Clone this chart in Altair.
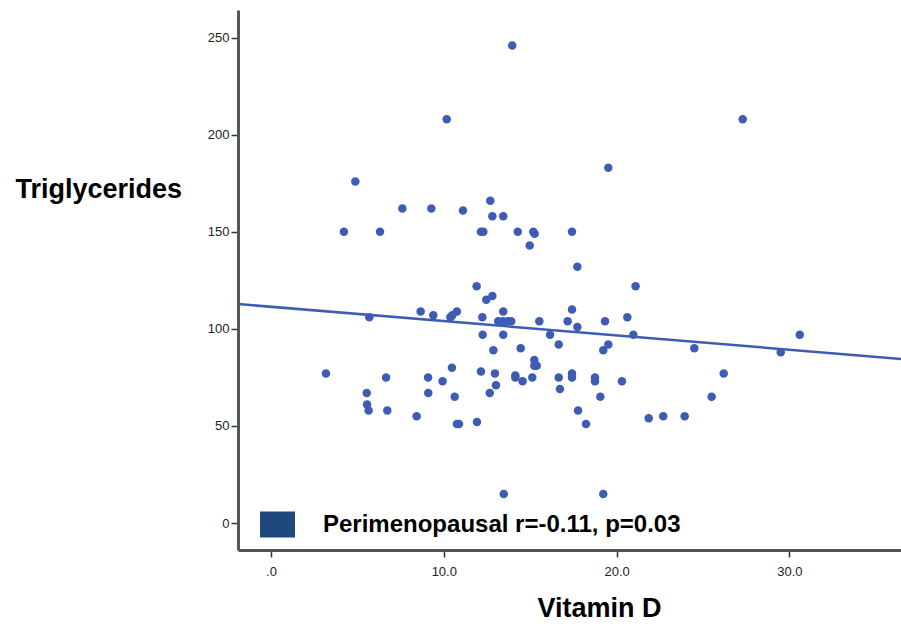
import altair as alt
import pandas as pd

# ---- data ----
vitamin_d = [13.96, 10.17, 4.88, 27.3, 19.52, 12.69, 7.6, 9.28, 11.11, 12.81,
             13.44, 4.22, 6.31, 12.15, 12.29, 14.28, 15.18, 15.26, 14.97, 11.9,
             12.81, 12.46, 8.66, 9.39, 10.38, 10.49, 10.76, 5.69, 12.23, 13.44,
             13.15, 13.44, 13.72, 13.9, 15.53, 12.25, 13.44, 16.15, 12.87, 14.45,
             15.24, 17.42, 17.73, 21.1, 17.42, 17.17, 19.33, 20.62, 17.73, 16.65,
             20.97, 19.52, 19.23, 24.5, 29.5, 30.6, 15.24, 15.38, 3.18, 6.66,
             9.09, 10.47, 9.93, 12.15, 12.96, 13.02, 14.14, 14.14, 14.56, 15.12,
             5.54, 9.1, 10.63, 12.66, 5.56, 5.65, 6.73, 8.43, 10.76, 10.88,
             11.92, 13.47, 16.65, 17.42, 17.42, 18.75, 18.75, 16.72, 20.31, 19.06,
             26.2, 25.5, 17.77, 18.23, 21.86, 22.7, 23.94, 19.23]
triglycerides = [246, 208, 176, 208, 183, 166, 162, 162, 161, 158,
                 158, 150, 150, 150, 150, 150, 150, 149, 143, 122,
                 117, 115, 109, 107, 106, 107, 109, 106, 106, 109,
                 104, 104, 104, 104, 104, 97, 97, 97, 89, 90,
                 84, 150, 132, 122, 110, 104, 104, 106, 101, 92,
                 97, 92, 89, 90, 88, 97, 81, 81, 77, 75,
                 75, 80, 73, 78, 77, 71, 76, 75, 73, 75,
                 67, 67, 65, 67, 61, 58, 58, 55, 51, 51,
                 52, 15, 75, 77, 75, 75, 73, 69, 73, 65,
                 77, 65, 58, 51, 54, 55, 55, 15]

fit_intercept = 111.4
fit_slope = -0.737
legend_label = "Perimenopausal r=-0.11, p=0.03"

x_domain = [-1.91, 36.46]
y_domain = [-13.9, 264.3]
x_ticks = [0, 10, 20, 30]
y_ticks = [0, 50, 100, 150, 200, 250]

points = pd.DataFrame({"vitd": vitamin_d, "tg": triglycerides})
fit = pd.DataFrame({"vitd": x_domain,
                    "tg": [fit_intercept + fit_slope * v for v in x_domain]})
legend_df = pd.DataFrame({"series": pd.Series([], dtype=str)})

FONT = "Liberation Sans"
BLUE = "#3F5CB5"

xscale = alt.Scale(domain=x_domain, nice=False, zero=False)
yscale = alt.Scale(domain=y_domain, nice=False, zero=False)

xaxis = alt.Axis(values=x_ticks, title="Vitamin D",
                 labelExpr="datum.value == 0 ? '.0' : format(datum.value, '.1f')",
                 labelPadding=8, titleX=361, titleY=66, titleAlign="center",
                 titleBaseline="alphabetic", titleFontSize=27)
yaxis = alt.Axis(values=y_ticks, title="Triglycerides", titleAngle=0,
                 titleX=-223, titleY=187, titleAlign="left",
                 titleBaseline="alphabetic", titleFontSize=27, labelPadding=2)

pts = alt.Chart(points).mark_circle(size=72, opacity=1, color=BLUE).encode(
    x=alt.X("vitd:Q", scale=xscale, axis=xaxis),
    y=alt.Y("tg:Q", scale=yscale, axis=yaxis),
)

line = alt.Chart(fit).mark_line(color=BLUE, strokeWidth=2.5, clip=True).encode(
    x="vitd:Q", y="tg:Q"
)

leg = alt.Chart(legend_df).mark_square(filled=True, opacity=1).encode(
    fill=alt.Fill("series:N",
                  scale=alt.Scale(domain=[legend_label], range=["#1F497D"]),
                  legend=alt.Legend(
                      title=None, orient="none", legendX=22, legendY=497,
                      symbolType="M-1,-0.743H1V0.743H-1Z", symbolSize=1225,
                      symbolStrokeWidth=0, symbolOpacity=1, labelFontSize=24,
                      labelFont=FONT, labelFontWeight="bold", labelColor="black",
                      labelOffset=28, labelLimit=800, padding=0))
)

chart = alt.layer(pts, line, leg).properties(
    width=663, height=540,
    autosize=alt.AutoSizeParams(type="none"),
    padding={"left": 238, "top": 10, "right": 0, "bottom": 79},
    background="white",
).configure_view(stroke=None).configure_axis(
    grid=False, domainColor="#555555", domainWidth=3,
    tickColor="#333333", tickWidth=1.5, tickSize=7,
    labelFont=FONT, labelFontSize=13, labelColor="#222222",
    titleFont=FONT, titleFontWeight="bold", titleColor="black",
)

chart.save("out.html", embed_options={"renderer": "svg", "actions": False})
